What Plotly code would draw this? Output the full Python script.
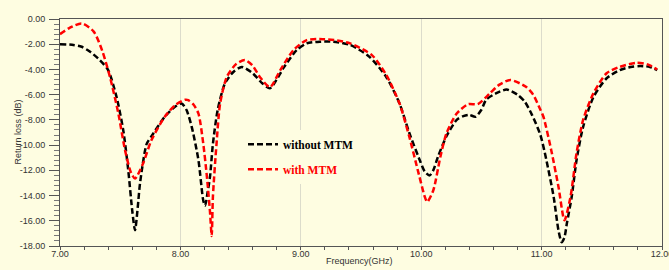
import plotly.graph_objects as go

# without MTM (black)
f_without = [7.00, 7.10, 7.18, 7.25, 7.33, 7.40, 7.47, 7.525, 7.567, 7.60, 7.623, 7.645, 7.665,
             7.72, 7.76, 7.87, 7.95, 8.01, 8.05, 8.094, 8.15, 8.19, 8.205, 8.225, 8.246, 8.27,
             8.31, 8.37, 8.44, 8.51, 8.60, 8.68, 8.744, 8.80, 8.855, 8.966, 9.05, 9.16, 9.27,
             9.41, 9.57, 9.71, 9.82, 9.90, 9.98, 10.03, 10.07, 10.10, 10.14, 10.21, 10.295,
             10.35, 10.40, 10.45, 10.50, 10.54, 10.62, 10.71, 10.80, 10.86, 10.92, 10.99, 11.04,
             11.10, 11.14, 11.167, 11.19, 11.21, 11.25, 11.29, 11.345, 11.43, 11.54, 11.65,
             11.74, 11.82, 11.90, 11.96]
rl_without = [-2.0, -2.05, -2.2, -2.6, -3.25, -4.05, -6.2, -8.8, -12.0, -15.2, -16.75, -15.0, -13.0,
              -9.9, -9.3, -7.75, -7.0, -6.7, -7.2, -8.55, -11.2, -14.4, -14.8, -13.8, -12.5, -9.9,
              -7.2, -5.1, -4.2, -3.8, -4.3, -5.1, -5.5, -4.8, -3.9, -2.46, -1.93, -1.8, -1.8,
              -2.06, -3.0, -4.6, -6.7, -9.0, -11.0, -12.1, -12.4, -12.0, -10.9, -9.3, -8.0,
              -7.7, -7.6, -7.75, -7.2, -6.4, -5.9, -5.6, -6.0, -6.55, -7.6, -9.2, -11.2,
              -14.1, -16.75, -17.7, -17.3, -16.2, -14.1, -11.2, -8.55, -6.2, -4.7, -4.05,
              -3.8, -3.73, -3.8, -4.05]

# with MTM (red)
f_with = [7.00, 7.08, 7.18, 7.28, 7.35, 7.415, 7.485, 7.54, 7.59, 7.623, 7.69, 7.76, 7.87, 7.96,
          8.04, 8.065, 8.11, 8.15, 8.19, 8.22, 8.245, 8.26, 8.27, 8.30, 8.33, 8.385, 8.46, 8.536,
          8.60, 8.66, 8.744, 8.83, 8.94, 9.05, 9.19, 9.30, 9.41, 9.59, 9.71, 9.82, 9.90, 9.98,
          10.03, 10.05, 10.10, 10.16, 10.21, 10.295, 10.39, 10.47, 10.57, 10.65, 10.74, 10.87,
          10.93, 10.99, 11.015, 11.08, 11.14, 11.19, 11.24, 11.29, 11.345, 11.43, 11.54, 11.65,
          11.79, 11.88, 11.96]
rl_with = [-1.2, -0.7, -0.35, -1.0, -2.5, -4.6, -7.5, -10.4, -12.2, -12.65, -11.45, -9.6, -7.75, -6.8,
           -6.4, -6.43, -6.8, -7.5, -9.9, -12.5, -15.2, -17.2, -14.1, -9.9, -6.7, -4.6, -3.6, -3.25,
           -3.7, -4.6, -5.4, -4.05, -2.46, -1.67, -1.6, -1.7, -1.93, -2.86, -4.44, -6.7, -9.3, -12.3,
           -14.1, -14.5, -13.6, -10.9, -9.07, -7.5, -6.75, -6.75, -5.9, -5.2, -4.84, -5.37,
           -6.0, -7.2, -7.75, -10.4, -13.3, -15.95, -14.1, -10.65, -8.0, -5.9, -4.3, -3.79,
           -3.47, -3.6, -4.0]

x_ticks = [7, 8, 9, 10, 11, 12]
x_labels = ["7.00", "8.00", "9.00", "10.00", "11.00", "12.00"]
y_ticks = [0, -2, -4, -6, -8, -10, -12, -14, -16, -18]
y_labels = ["0.00", "-2.00", "-4.00", "-6.00", "-8.00", "-10.00", "-12.00", "-14.00", "-16.00", "-18.00"]

BG = "#FEFDE1"

fig = go.Figure()
fig.add_trace(go.Scatter(
    x=f_without, y=rl_without, mode="lines",
    name="<b>without MTM</b>", legendgroup="a",
    line=dict(color="black", width=2.5, dash="6px,3px", shape="spline", smoothing=0.7),
))
fig.add_trace(go.Scatter(
    x=f_with, y=rl_with, mode="lines",
    name="<span style='color:#FF0000'><b>with MTM</b></span>", legendgroup="b",
    line=dict(color="#FF0000", width=2.5, dash="6px,3px", shape="spline", smoothing=0.7),
))

fig.update_layout(
    width=669, height=270,
    margin=dict(l=60, r=7, t=19, b=24, autoexpand=False),
    paper_bgcolor=BG, plot_bgcolor=BG,
    font=dict(family="Liberation Sans, Arial", size=9, color="#333333"),
    showlegend=True,
    legend=dict(
        x=0.304, y=0.512, xanchor="left", yanchor="top",
        bgcolor=BG, borderwidth=0,
        font=dict(family="Liberation Serif, Times New Roman", size=11.5, color="black"),
        tracegroupgap=6,
    ),
    xaxis=dict(
        range=[7, 12], tickvals=x_ticks, ticktext=x_labels,
        showgrid=True, gridcolor="#DCDCCB", gridwidth=1,
        showline=True, linecolor="#555555", linewidth=1, mirror=True,
        ticks="outside", ticklen=3, tickcolor="#555555",
        minor=dict(dtick=0.2, ticks="outside", ticklen=3, tickcolor="#555555", showgrid=False),
        zeroline=False, ticklabeloverflow="allow", ticklabelstandoff=-4,
        automargin=False,
        tickfont=dict(size=9, color="#333333"),
    ),
    yaxis=dict(
        range=[-18, 0], tickvals=y_ticks, ticktext=y_labels,
        showgrid=False,
        showline=True, linecolor="#555555", linewidth=1, mirror=True,
        ticks="outside", ticklen=10, tickcolor="#555555",
        minor=dict(dtick=0.4, ticks="outside", ticklen=5, tickcolor="#777777", showgrid=False),
        zeroline=False, ticklabelstandoff=2, automargin=False,
        tickfont=dict(size=9, color="#333333"),
    ),
    annotations=[
        dict(text="Frequency(GHz)", xref="paper", yref="paper", x=0.498, y=-0.066,
             xanchor="center", yanchor="middle", showarrow=False,
             font=dict(size=9, color="#333333")),
        dict(text="Return loss (dB)", xref="paper", yref="paper", x=-0.0714, y=0.5,
             xanchor="center", yanchor="middle", showarrow=False, textangle=-90,
             font=dict(size=9, color="#333333")),
    ],
)

fig.write_html("out.html", config={"displayModeBar": False},
               post_script="document.body.style.margin='0';")
